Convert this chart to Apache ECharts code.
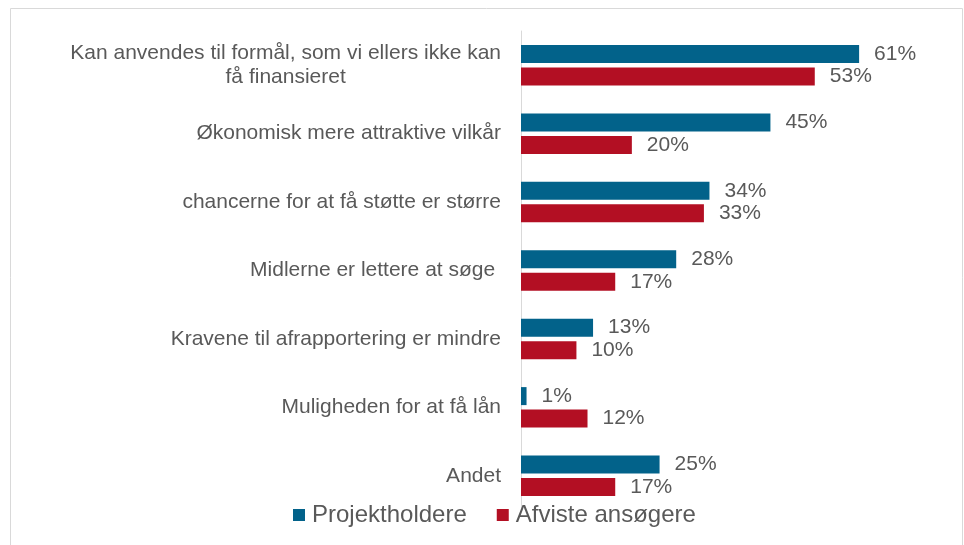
<!DOCTYPE html>
<html>
<head>
<meta charset="utf-8">
<script src="https://cdn.jsdelivr.net/npm/echarts@6/dist/echarts.min.js"></script>
<style>
    html, body { margin: 0; padding: 0; background: #fff; }
    #chart { width: 964px; height: 545px; }
</style>
</head>
<body>
<div id="chart"></div>
<script>
    // data
    const categories = [
        'Kan anvendes til formål, som vi ellers ikke kan\nfå finansieret',
        'Økonomisk mere attraktive vilkår',
        'chancerne for at få støtte er større',
        'Midlerne er lettere at søge ',
        'Kravene til afrapportering er mindre',
        'Muligheden for at få lån',
        'Andet'
    ];
    const projektholdere = [61, 45, 34, 28, 13, 1, 25];
    const afviste = [53, 20, 33, 17, 10, 12, 17];
    const seriesNames = ['Projektholdere', 'Afviste ansøgere'];

    const textColor = '#595959';
    const font = 'Liberation Sans, Arial, sans-serif';

    let chart = echarts.init(document.getElementById('chart'));

    let valueLabel = {
        show: true,
        position: 'right',
        distance: 15,
        color: textColor,
        fontFamily: font,
        fontSize: 21,
        formatter: (p) => p.value + '%'
    };

    let option = {
        animation: false,
        graphic: [
            {
                type: 'rect',
                shape: { x: 10.5, y: 8.5, width: 952, height: 600 },
                style: { fill: 'none', stroke: '#d9d9d9', lineWidth: 1 },
                silent: true
            }
        ],
        legend: {
            data: seriesNames,
            left: 288,
            top: 498,
            icon: 'rect',
            itemWidth: 12,
            itemHeight: 12,
            itemGap: 30,
            textStyle: {
                color: textColor,
                fontFamily: font,
                fontSize: 24,
                padding: [0, 0, 0, 2]
            }
        },
        grid: {
            left: 521,
            right: 55,
            top: 31,
            bottom: 35
        },
        xAxis: {
            type: 'value',
            min: 0,
            max: 70,
            show: false
        },
        yAxis: {
            type: 'category',
            data: categories,
            inverse: true,
            axisLine: { show: true, lineStyle: { color: '#d9d9d9', width: 1 } },
            axisTick: { show: false },
            axisLabel: {
                margin: 20,
                color: textColor,
                fontFamily: font,
                fontSize: 21,
                lineHeight: 24,
                formatter: (val) => val.split('\n').map((s) => '{c|' + s + '}').join('\n'),
                rich: {
                    c: {
                        align: 'center',
                        color: textColor,
                        fontFamily: font,
                        fontSize: 21,
                        lineHeight: 24
                    }
                }
            }
        },
        series: [
            {
                name: seriesNames[0],
                type: 'bar',
                data: projektholdere,
                barWidth: 18,
                barGap: '25%',
                itemStyle: { color: '#02628a' },
                label: valueLabel
            },
            {
                name: seriesNames[1],
                type: 'bar',
                data: afviste,
                barWidth: 18,
                barGap: '25%',
                itemStyle: { color: '#b30f23' },
                label: valueLabel
            }
        ]
    };

    chart.setOption(option);
</script>
</body>
</html>
